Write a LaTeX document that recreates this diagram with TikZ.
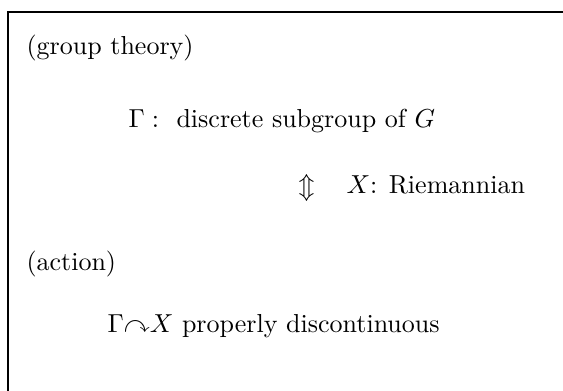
\documentclass[tikz,border=0pt]{standalone}
\usepackage{amssymb}
\begin{document}
\begin{tikzpicture}[x=1pt,y=-1pt,
  txt/.style={anchor=base west,inner sep=0pt,font=\fontsize{10}{12}\selectfont,scale=2.6,transform shape}]
\useasboundingbox (0,0) rectangle (563,391);
\draw[line width=1.3pt] (8,391) coordinate (bl) -- (8,12) coordinate (tl) -- (563,12) coordinate (tr);
\node[txt] (gt) at (26,54) {(group theory)};
\node[txt] (sub) at (128,127) {$\Gamma:$ \ discrete subgroup of $G$};
\node[txt] (arr) at (298,194) {$\Updownarrow$};
\node[txt] (riem) at (346,193) {$X$: Riemannian};
\node[txt] (act) at (26,270) {(action)};
\node[txt] (pd) at (107,332) {$\Gamma{\curvearrowright}X$ properly discontinuous};
\end{tikzpicture}
\end{document}
